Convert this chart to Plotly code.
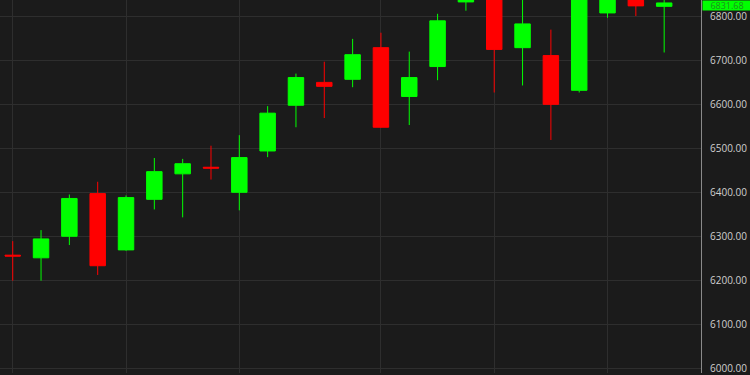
import plotly.graph_objects as go

# ---- data ----
idx = list(range(24))
opens  = [6258, 6252, 6301, 6398, 6270, 6385, 6443, 6458, 6401, 6495, 6599, 6651,
          6658, 6730, 6619, 6687, 6834, 6880, 6730, 6712, 6633, 6809, 6850, 6824]
highs  = [6290, 6315, 6396, 6425, 6394, 6479, 6477, 6507, 6531, 6597, 6671, 6698,
          6750, 6764, 6721, 6807, 6890, 6900, 6850, 6771, 6880, 6860, 6870, 6850]
lows   = [6200, 6200, 6281, 6213, 6268, 6362, 6344, 6430, 6360, 6481, 6549, 6570,
          6640, 6548, 6554, 6656, 6814, 6628, 6644, 6520, 6628, 6798, 6802, 6719]
closes = [6256, 6295, 6387, 6234, 6389, 6448, 6466, 6456, 6480, 6581, 6662, 6642,
          6714, 6549, 6662, 6791, 6870, 6726, 6784, 6601, 6860, 6845, 6825, 6831.68]
grid_x = [0, 4, 8, 13, 17, 21]
y_ticks = [6000, 6100, 6200, 6300, 6400, 6500, 6600, 6700, 6800]
last_price = closes[-1]

BG = "#1b1b1b"
GRID = "#2e2e2e"
UP = "#00ff00"
DOWN = "#ff0000"
FONT = "Open Sans, sans-serif"

fig = go.Figure()
fig.add_trace(go.Candlestick(
    x=idx, open=opens, high=highs, low=lows, close=closes,
    increasing=dict(line=dict(color=UP, width=1), fillcolor=UP),
    decreasing=dict(line=dict(color=DOWN, width=1), fillcolor=DOWN),
    whiskerwidth=0,
    hoverinfo="skip",
    showlegend=False,
))

fig.add_annotation(
    x=1.0, xref="paper", xanchor="left", xshift=1,
    y=1.0, yref="paper", yanchor="top",
    text=f"{last_price:.2f}",
    showarrow=False,
    bgcolor=UP, borderpad=0, width=48, height=9, align="center",
    font=dict(family=FONT, size=9, color="#1f8f1f"),
)

fig.update_layout(
    width=750, height=375,
    margin=dict(l=0, r=49, t=0, b=0),
    paper_bgcolor=BG, plot_bgcolor=BG,
    boxgap=0.22,
    showlegend=False,
    font=dict(family=FONT, size=10, color="#cfcfcf"),
    xaxis=dict(
        type="linear", range=[-0.449, 24.3],
        tickvals=grid_x, showticklabels=False, ticks="",
        showgrid=True, gridcolor=GRID, gridwidth=1,
        zeroline=False, showline=False,
        rangeslider=dict(visible=False),
    ),
    yaxis=dict(
        side="right", range=[5990, 6838.4],
        tickvals=y_ticks, tickformat=".2f",
        ticks="outside", ticklen=6, tickcolor=BG,
        ticklabeloverflow="allow",
        showgrid=True, gridcolor=GRID, gridwidth=1,
        zeroline=False, showline=True, linecolor="#8a8a8a", linewidth=1,
        tickfont=dict(family=FONT, size=10, color="#cfcfcf"),
    ),
)

fig.write_html("out.html")
